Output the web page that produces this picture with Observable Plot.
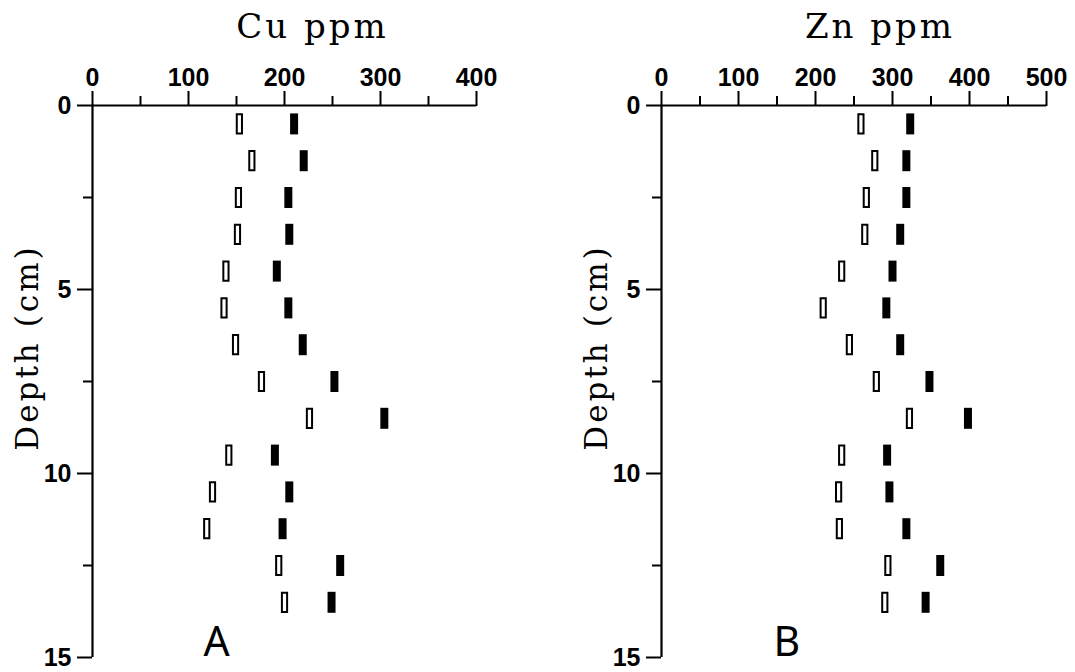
<!DOCTYPE html>
<html><head><meta charset="utf-8">
<script src="https://cdn.jsdelivr.net/npm/d3@7"></script>
<script src="https://cdn.jsdelivr.net/npm/@observablehq/plot@0.6"></script>
<style>
body{margin:0;background:#fff;}
#wrap{display:flex;width:1075px;height:672px;}
svg{overflow:visible;}
</style></head><body><div id="wrap"></div>
<script>
// depth of each 1 cm section (mid-point, cm)
const depth = [0.5,1.5,2.5,3.5,4.5,5.5,6.5,7.5,8.5,9.5,10.5,11.5,12.5,13.5];
// Panel A: Cu ppm
const cuOpen   = [153,166,152,151,139,137,149,176,226,142,125,119,194,200];
const cuFilled = [210,220,204,205,192,204,219,252,304,190,205,198,258,249];
// Panel B: Zn ppm
const znOpen   = [259,277,266,264,234,210,244,279,322,234,230,231,294,290];
const znFilled = [323,318,318,310,300,292,310,348,398,293,296,318,362,343];

const cuMajor = [0,100,200,300,400];
const cuMinor = [50,150,250,350];
const znMajor = [0,100,200,300,400,500];
const znMinor = [50,150,250,350,450];
const depthMajor = [0,5,10,15];
const depthMinor = [2.5,7.5,12.5];
const titles = ["Cu ppm","Zn ppm"];
const letters = ["A","B"];
const yTitle = "Depth (cm)";

const openSym = {draw(ctx){ ctx.rect(-2.6,-9.6,5.2,19.2); }};
const fillSym = {draw(ctx){ ctx.rect(-4,-10.5,8,21); }};

function panel(o){
  const openRows = depth.map((d,i)=>({d, v:o.open[i]}));
  const fillRows = depth.map((d,i)=>({d, v:o.filled[i]}));
  const tickFont = {fontSize:25, fontWeight:"bold", fontFamily:"Liberation Sans, Arial, sans-serif"};
  const svg = Plot.plot({
    width:o.width, height:672,
    marginLeft:o.ml, marginRight:o.mr, marginTop:105, marginBottom:15,
    x:{domain:[0,o.xmax]},
    y:{domain:[0,15], reverse:true},
    style:{background:"white", color:"black"},
    marks:[
      Plot.ruleY([0],{strokeWidth:2.2}),
      Plot.ruleX([0],{strokeWidth:2.2}),
      Plot.axisX({anchor:"top", ticks:o.major, tickSize:15, tickPadding:5, strokeWidth:2, label:null, tickFormat:d=>String(d), ...tickFont}),
      Plot.axisX({anchor:"top", ticks:o.minor, tickSize:10, strokeWidth:2, label:null, tickFormat:()=>""}),
      Plot.axisY({anchor:"left", ticks:depthMajor, tickSize:15, tickPadding:6, strokeWidth:2, label:null, tickFormat:d=>String(d), ...tickFont}),
      Plot.axisY({anchor:"left", ticks:depthMinor, tickSize:9, strokeWidth:2, label:null, tickFormat:()=>""}),
      Plot.dot(openRows,{x:"v", y:"d", symbol:openSym, fill:"white", stroke:"black", strokeWidth:2}),
      Plot.dot(fillRows,{x:"v", y:"d", symbol:fillSym, fill:"black", stroke:"none"}),
      Plot.text([o.title],{frameAnchor:"top", textAnchor:"middle", dx:o.tdx, dy:-68, lineAnchor:"bottom", fontSize:34, fontFamily:"DejaVu Serif, serif"}),
      Plot.text([yTitle],{frameAnchor:"left", textAnchor:"middle", rotate:-90, dx:-64, dy:-34, lineAnchor:"middle", fontSize:31, fontFamily:"DejaVu Serif, serif"}),
      Plot.text([o.letter],{frameAnchor:"bottom-left", textAnchor:"start", lineAnchor:"bottom", dx:o.ldx, dy:-2, fontSize:41, fontFamily:"Noto Sans, sans-serif"})
    ]
  });
  d3.select(svg).selectAll("text").each(function(){
    const t = this.textContent;
    if (t === o.title) this.style.letterSpacing = "3px";
    if (t === yTitle) this.style.letterSpacing = "3px";
  });
  return svg;
}

const wrap = document.getElementById("wrap");
wrap.appendChild(panel({width:537, ml:92, mr:61, xmax:400, major:cuMajor, minor:cuMinor, open:cuOpen, filled:cuFilled, title:titles[0], tdx:28, letter:letters[0], ldx:111}));
wrap.appendChild(panel({width:538, ml:124, mr:29, xmax:500, major:znMajor, minor:znMinor, open:znOpen, filled:znFilled, title:titles[1], tdx:26, letter:letters[1], ldx:112}));
</script></body></html>
